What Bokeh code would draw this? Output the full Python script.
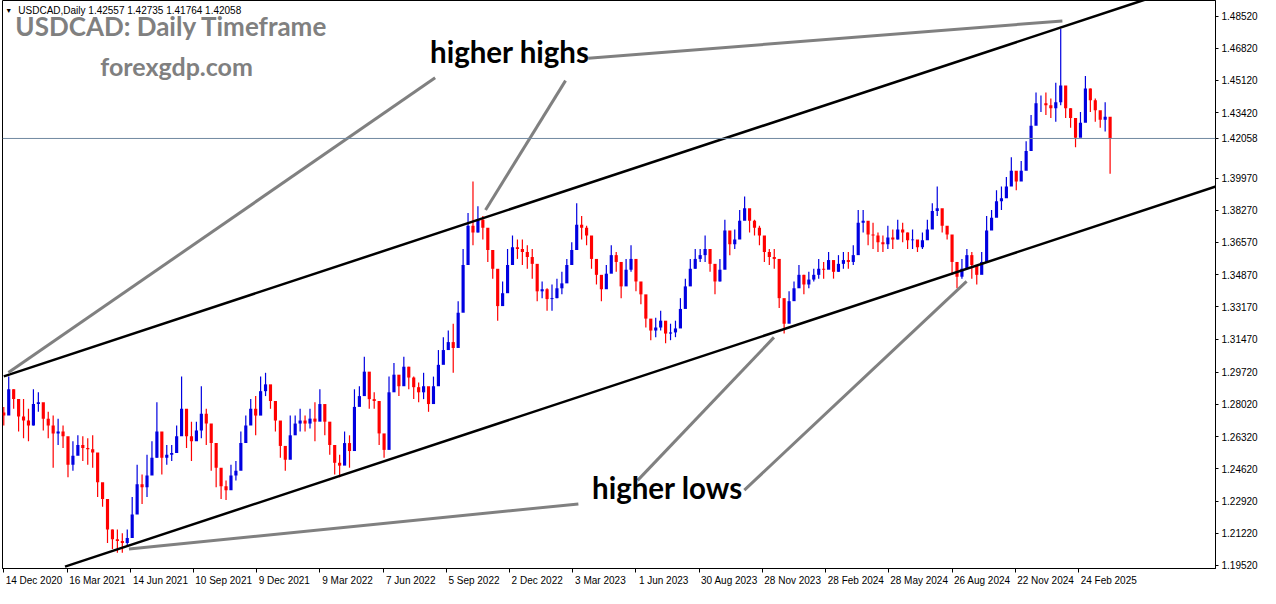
import numpy as np
from bokeh.plotting import figure
from bokeh.models import Range1d, FixedTicker, Span, Label, ColumnDataSource
from bokeh.embed import file_html
from bokeh.resources import INLINE

# ---------------- data ----------------
symbol_header = "USDCAD,Daily  1.42557 1.42735 1.41764 1.42058"
last_close = 1.42058

date_labels = ["14 Dec 2020", "16 Mar 2021", "14 Jun 2021", "10 Sep 2021", "9 Dec 2021",
               "9 Mar 2022", "7 Jun 2022", "5 Sep 2022", "2 Dec 2022", "3 Mar 2023",
               "1 Jun 2023", "30 Aug 2023", "28 Nov 2023", "28 Feb 2024", "28 May 2024",
               "26 Aug 2024", "22 Nov 2024", "24 Feb 2025"]
date_tick_bars = [0, 64, 128, 192, 256, 320, 384, 448, 512, 576,
                  640, 704, 768, 832, 896, 960, 1024, 1088]

# price scale (1.41720 is hidden behind the current-price tag in the original)
price_ticks = [1.4852, 1.4682, 1.4512, 1.4342, 1.42058, 1.3997, 1.3827, 1.3657, 1.3487,
               1.3317, 1.3147, 1.2972, 1.2802, 1.2632, 1.2462, 1.2292, 1.2122, 1.1952]

# weekly (5-bar) blocks
first_open = 1.2760
closes = [
    1.2743, 1.2882, 1.2830, 1.2738, 1.2717, 1.2691, 1.2804, 1.2814, 1.2727, 1.2691,
    1.2649, 1.2659, 1.2634, 1.2484, 1.2531, 1.2588, 1.2572, 1.2566, 1.2548, 1.2391,
    1.2303, 1.2142, 1.2091, 1.2081, 1.2071, 1.2097, 1.2221, 1.2381, 1.2365, 1.2427,
    1.2520, 1.2659, 1.2520, 1.2536, 1.2546, 1.2634, 1.2779, 1.2634, 1.2608, 1.2665,
    1.2753, 1.2701, 1.2598, 1.2468, 1.2370, 1.2349, 1.2427, 1.2452, 1.2598, 1.2691,
    1.2779, 1.2743, 1.2872, 1.2908, 1.2820, 1.2717, 1.2583, 1.2510, 1.2639, 1.2701,
    1.2717, 1.2701, 1.2727, 1.2711, 1.2804, 1.2711, 1.2588, 1.2494, 1.2479, 1.2598,
    1.2556, 1.2789, 1.2846, 1.2975, 1.2830, 1.2820, 1.2649, 1.2562, 1.2866, 1.2959,
    1.2898, 1.3001, 1.2944, 1.2893, 1.2866, 1.2898, 1.2804, 1.2898, 1.3011, 1.3089,
    1.3131, 1.3100, 1.3286, 1.3538, 1.3745, 1.3709, 1.3777, 1.3735, 1.3617, 1.3518,
    1.3321, 1.3389, 1.3538, 1.3632, 1.3622, 1.3606, 1.3580, 1.3544, 1.3399, 1.3410,
    1.3358, 1.3363, 1.3415, 1.3441, 1.3538, 1.3617, 1.3751, 1.3735, 1.3693, 1.3570,
    1.3486, 1.3410, 1.3492, 1.3590, 1.3554, 1.3425, 1.3513, 1.3570, 1.3451, 1.3383,
    1.3255, 1.3192, 1.3208, 1.3244, 1.3176, 1.3182, 1.3203, 1.3306, 1.3425, 1.3518,
    1.3570, 1.3590, 1.3622, 1.3544, 1.3451, 1.3513, 1.3720, 1.3648, 1.3673, 1.3772,
    1.3838, 1.3772, 1.3735, 1.3693, 1.3606, 1.3580, 1.3570, 1.3363, 1.3228, 1.3347,
    1.3415, 1.3486, 1.3435, 1.3461, 1.3486, 1.3518, 1.3513, 1.3564, 1.3502, 1.3544,
    1.3564, 1.3554, 1.3590, 1.3761, 1.3772, 1.3699, 1.3693, 1.3658, 1.3648, 1.3683,
    1.3673, 1.3725, 1.3709, 1.3668, 1.3673, 1.3632, 1.3668, 1.3725, 1.3823, 1.3838,
    1.3745, 1.3699, 1.3554, 1.3476, 1.3518, 1.3590, 1.3538, 1.3486, 1.3554, 1.3720,
    1.3787, 1.3875, 1.3890, 1.3952, 1.4035, 1.3978, 1.4035, 1.4139, 1.4273, 1.4392,
    1.4392, 1.4381, 1.4365, 1.4397, 1.4485, 1.4365, 1.4314, 1.4210, 1.4289, 1.4469,
    1.4407, 1.4355, 1.4304, 1.4320, 1.42058,
]
highs = [
    1.2789, 1.2949, 1.2882, 1.2814, 1.2830, 1.2779, 1.2882, 1.2866, 1.2779, 1.2763,
    1.2743, 1.2727, 1.2691, 1.2556, 1.2608, 1.2639, 1.2634, 1.2624, 1.2639, 1.2468,
    1.2349, 1.2210, 1.2142, 1.2142, 1.2122, 1.2142, 1.2313, 1.2484, 1.2432, 1.2536,
    1.2608, 1.2814, 1.2608, 1.2588, 1.2588, 1.2691, 1.2949, 1.2691, 1.2711, 1.2711,
    1.2898, 1.2779, 1.2624, 1.2520, 1.2432, 1.2401, 1.2484, 1.2504, 1.2659, 1.2743,
    1.2830, 1.2846, 1.2949, 1.2969, 1.2866, 1.2779, 1.2639, 1.2572, 1.2743, 1.2743,
    1.2779, 1.2743, 1.2779, 1.2814, 1.2882, 1.2779, 1.2639, 1.2556, 1.2536, 1.2659,
    1.2639, 1.2882, 1.2898, 1.3053, 1.2882, 1.2866, 1.2711, 1.2608, 1.2949, 1.3021,
    1.2949, 1.3053, 1.3001, 1.2949, 1.2918, 1.2969, 1.2846, 1.2949, 1.3089, 1.3157,
    1.3192, 1.3228, 1.3347, 1.3622, 1.3813, 1.3978, 1.3848, 1.3797, 1.3673, 1.3570,
    1.3399, 1.3451, 1.3622, 1.3693, 1.3673, 1.3673, 1.3642, 1.3622, 1.3451, 1.3451,
    1.3415, 1.3435, 1.3466, 1.3502, 1.3570, 1.3658, 1.3864, 1.3797, 1.3745, 1.3622,
    1.3538, 1.3466, 1.3538, 1.3642, 1.3606, 1.3486, 1.3570, 1.3642, 1.3502, 1.3435,
    1.3296, 1.3244, 1.3260, 1.3296, 1.3228, 1.3228, 1.3244, 1.3363, 1.3466, 1.3570,
    1.3622, 1.3622, 1.3693, 1.3590, 1.3518, 1.3570, 1.3777, 1.3709, 1.3725, 1.3828,
    1.3900, 1.3828, 1.3777, 1.3745, 1.3658, 1.3622, 1.3622, 1.3415, 1.3280, 1.3399,
    1.3451, 1.3538, 1.3486, 1.3502, 1.3518, 1.3570, 1.3554, 1.3606, 1.3538, 1.3590,
    1.3606, 1.3606, 1.3642, 1.3828, 1.3828, 1.3761, 1.3761, 1.3709, 1.3693, 1.3745,
    1.3725, 1.3777, 1.3761, 1.3709, 1.3725, 1.3658, 1.3709, 1.3777, 1.3864, 1.3952,
    1.3777, 1.3725, 1.3622, 1.3502, 1.3570, 1.3622, 1.3606, 1.3538, 1.3606, 1.3797,
    1.3828, 1.3932, 1.3952, 1.4003, 1.4107, 1.4019, 1.4087, 1.4191, 1.4330, 1.4449,
    1.4433, 1.4449, 1.4417, 1.4500, 1.4785, 1.4417, 1.4365, 1.4262, 1.4345, 1.4536,
    1.4469, 1.4417, 1.4345, 1.4397, 1.4300,
]
lows = [
    1.2691, 1.2814, 1.2779, 1.2659, 1.2624, 1.2608, 1.2691, 1.2763, 1.2665, 1.2624,
    1.2468, 1.2588, 1.2572, 1.2417, 1.2452, 1.2536, 1.2504, 1.2484, 1.2468, 1.2313,
    1.2262, 1.2071, 1.2039, 1.2019, 1.2019, 1.2055, 1.2122, 1.2277, 1.2277, 1.2313,
    1.2432, 1.2520, 1.2432, 1.2484, 1.2504, 1.2572, 1.2639, 1.2572, 1.2504, 1.2624,
    1.2624, 1.2588, 1.2452, 1.2365, 1.2303, 1.2297, 1.2365, 1.2401, 1.2536, 1.2639,
    1.2727, 1.2639, 1.2794, 1.2846, 1.2779, 1.2659, 1.2520, 1.2452, 1.2536, 1.2659,
    1.2659, 1.2659, 1.2675, 1.2608, 1.2727, 1.2639, 1.2536, 1.2432, 1.2417, 1.2536,
    1.2468, 1.2691, 1.2794, 1.2898, 1.2779, 1.2779, 1.2588, 1.2520, 1.2779, 1.2898,
    1.2846, 1.2949, 1.2882, 1.2830, 1.2814, 1.2830, 1.2763, 1.2846, 1.2949, 1.3053,
    1.3089, 1.2969, 1.3228, 1.3451, 1.3673, 1.3642, 1.3709, 1.3673, 1.3554, 1.3466,
    1.3244, 1.3331, 1.3451, 1.3570, 1.3570, 1.3538, 1.3518, 1.3466, 1.3347, 1.3363,
    1.3296, 1.3296, 1.3363, 1.3383, 1.3502, 1.3570, 1.3673, 1.3673, 1.3642, 1.3518,
    1.3435, 1.3347, 1.3451, 1.3538, 1.3502, 1.3363, 1.3451, 1.3502, 1.3399, 1.3331,
    1.3208, 1.3141, 1.3157, 1.3192, 1.3125, 1.3141, 1.3157, 1.3260, 1.3383, 1.3466,
    1.3518, 1.3554, 1.3554, 1.3502, 1.3383, 1.3451, 1.3658, 1.3590, 1.3622, 1.3709,
    1.3777, 1.3709, 1.3693, 1.3642, 1.3554, 1.3538, 1.3518, 1.3311, 1.3176, 1.3296,
    1.3383, 1.3435, 1.3383, 1.3415, 1.3451, 1.3466, 1.3466, 1.3518, 1.3466, 1.3502,
    1.3518, 1.3518, 1.3538, 1.3693, 1.3709, 1.3642, 1.3622, 1.3606, 1.3606, 1.3622,
    1.3622, 1.3673, 1.3658, 1.3622, 1.3622, 1.3606, 1.3622, 1.3673, 1.3777, 1.3797,
    1.3709, 1.3673, 1.3486, 1.3415, 1.3466, 1.3554, 1.3466, 1.3435, 1.3502, 1.3642,
    1.3745, 1.3813, 1.3828, 1.3900, 1.3968, 1.3932, 1.3983, 1.4087, 1.4210, 1.4330,
    1.4345, 1.4330, 1.4314, 1.4294, 1.4381, 1.4314, 1.4262, 1.4159, 1.4226, 1.4397,
    1.4345, 1.4294, 1.4262, 1.4242, 1.4019,
]
bars_per_block = 5

# trend channel anchor points (bar index, price)
upper_channel_bars = [0, 1155]
upper_channel_prices = [1.2950, 1.4938]
lower_channel_bars = [62, 1227]
lower_channel_prices = [1.1946, 1.3952]

# grey pointer lines (bar index, price)
pointer_x0 = [4.7, 487.7, 591.7, 126.7, 641.7, 749.7]
pointer_y0 = [1.2970, 1.3828, 1.4629, 1.2039, 1.2401, 1.2350]
pointer_x1 = [436.7, 568.7, 1071.7, 581.7, 779.7, 974.7]
pointer_y1 = [1.4526, 1.4511, 1.4826, 1.2277, 1.3156, 1.3451]

# ---------------- figure ----------------
n = len(closes)
xs = np.arange(n) * bars_per_block
opens = [first_open] + closes[:-1]
up = [c >= o for o, c in zip(opens, closes)]
colors = ["#0000e0" if u else "#ff0000" for u in up]
src = ColumnDataSource(dict(
    x=xs, h=highs, l=lows, col=colors,
    top=np.maximum(opens, closes), bottom=np.minimum(opens, closes)))

W, H = 1260, 588
p = figure(width=W, height=H, output_backend="svg", toolbar_location=None,
           x_range=Range1d(-1.3, 1226.7), y_range=Range1d(1.1936, 1.4934),
           y_axis_location="right",
           min_border_left=2, min_border_top=0, min_border_right=44, min_border_bottom=10)
p.background_fill_color = "white"
p.border_fill_color = "white"
p.outline_line_color = "black"
p.outline_line_width = 1
p.xgrid.visible = False
p.ygrid.visible = False

# price axis
ya = p.yaxis[0]
ya.ticker = FixedTicker(ticks=price_ticks)
ya.major_label_overrides = {t: f"{t:.5f}" for t in price_ticks}
ya.major_label_text_font = "Liberation Sans"
ya.major_label_text_font_size = "10px"
ya.major_label_text_color = "black"
ya.axis_line_color = "black"
ya.major_tick_line_color = "black"
ya.major_tick_in = 0
ya.major_tick_out = 3
ya.minor_tick_line_color = None
ya.major_label_standoff = 3

# date axis: labels start at the tick (left aligned), so label anchors sit half a label to the right
label_centers = [b + 2 + len(d) * 2.6 for b, d in zip(date_tick_bars, date_labels)]
xa = p.xaxis[0]
xa.ticker = FixedTicker(ticks=label_centers, minor_ticks=date_tick_bars)
xa.major_label_overrides = {c: d for c, d in zip(label_centers, date_labels)}
xa.major_label_text_font = "Liberation Sans"
xa.major_label_text_font_size = "10px"
xa.major_label_text_color = "black"
xa.axis_line_color = "black"
xa.major_tick_line_color = None
xa.major_tick_in = 0
xa.major_tick_out = 4
xa.minor_tick_line_color = "black"
xa.minor_tick_in = 0
xa.minor_tick_out = 4
xa.major_label_standoff = 2

# current price line
p.add_layout(Span(location=last_close, dimension="width", line_color="#7088a0", line_width=1))

# bars
p.segment(x0="x", y0="l", x1="x", y1="h", line_color="col", line_width=1.2, source=src)
p.vbar(x="x", top="top", bottom="bottom", width=3.2, fill_color="col", line_color=None, source=src)

# channel lines
p.line(upper_channel_bars, upper_channel_prices, line_color="black", line_width=2.5)
p.line(lower_channel_bars, lower_channel_prices, line_color="black", line_width=2.5)

# pointer lines
p.segment(x0=pointer_x0, y0=pointer_y0, x1=pointer_x1, y1=pointer_y1,
          line_color="#808080", line_width=3)

# texts
p.add_layout(Label(x=11.7, y=1.4717, text="USDCAD: Daily Timeframe", text_font="Lato",
                   text_font_style="bold", text_font_size="26px", text_color="#808080"))
p.add_layout(Label(x=97.7, y=1.4511, text="forexgdp.com", text_font="Lato",
                   text_font_style="bold", text_font_size="25px", text_color="#808080"))
p.add_layout(Label(x=431.5, y=1.4574, text="higher highs", text_font="Lato",
                   text_font_style="bold", text_font_size="29.5px", text_color="black"))
p.add_layout(Label(x=595.5, y=1.2272, text="higher lows", text_font="Lato",
                   text_font_style="bold", text_font_size="29.5px", text_color="black"))
p.add_layout(Label(x=1.5, y=1.4880, text="\u25BC", text_font="Liberation Sans",
                   text_font_size="7px", text_color="black", text_baseline="middle"))
p.add_layout(Label(x=14.7, y=1.4880, text=symbol_header, text_font="Liberation Sans",
                   text_font_size="10px", text_color="black", text_baseline="middle"))

open("out.html", "w").write(file_html(p, INLINE))
